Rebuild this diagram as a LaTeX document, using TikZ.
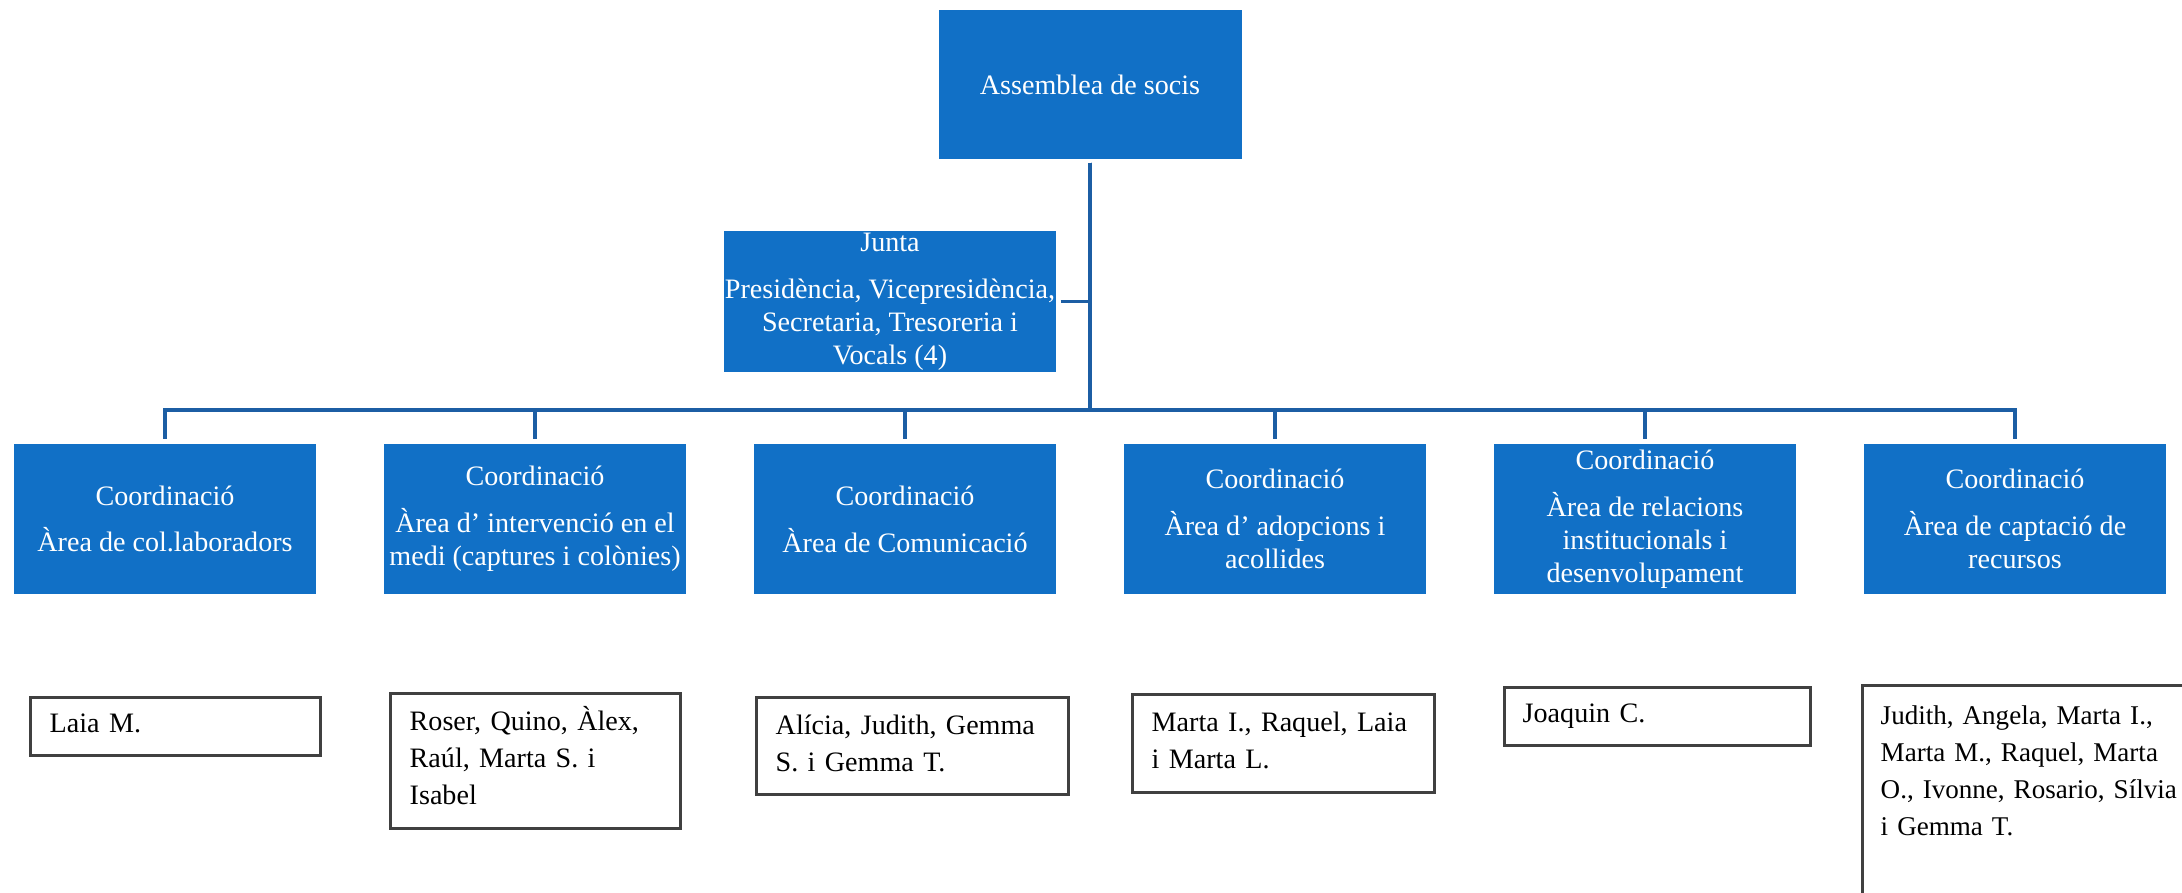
\documentclass[tikz,border=0pt]{standalone}
\usepackage{fontspec}
\setmainfont{Liberation Serif}
\usetikzlibrary{positioning}
\definecolor{orgblue}{RGB}{17,112,198}
\definecolor{linkblue}{RGB}{28,94,164}
\definecolor{boxgray}{RGB}{64,64,64}
\newcommand{\coord}{Coordinació\\[3.9pt]}
\tikzstyle{blk}=[fill=orgblue, text=white, align=center, inner sep=0pt, font=\fontsize{8}{9.4}\selectfont]
\tikzstyle{area}=[blk, minimum width=3.02cm, minimum height=1.50cm]
\tikzstyle{names}=[draw=boxgray, line width=0.8pt, anchor=north west, inner sep=0pt]
\tikzstyle{nametxt}=[anchor=base west, text width=3.3cm, align=left, inner sep=0pt, font=\fontsize{8}{10.5}\selectfont]
\tikzstyle{link}=[draw=linkblue, line width=1pt]

\begin{document}
\begin{tikzpicture}[node distance=3.70cm]
\useasboundingbox (0,0) rectangle (21.82,-8.93);
\clip (0,0) rectangle (21.82,-8.93);

\node[blk, minimum width=3.03cm, minimum height=1.49cm] at (10.90,-0.845) (ass) {Assemblea de socis};
\node[blk, minimum width=3.32cm, minimum height=1.41cm] at (8.90,-3.015) (junta) {Junta\\[3.9pt] Presidència, Vicepresidència,\\ Secretaria, Tresoreria i\\ Vocals (4)};

\node[area] at (1.65,-5.19) (c1) {\coord Àrea de col.laboradors};
\node[area, right of = c1] (c2) {\coord Àrea d’ intervenció en el\\ medi (captures i colònies)};
\node[area, right of = c2] (c3) {\coord Àrea de Comunicació};
\node[area, right of = c3] (c4) {\coord Àrea d’ adopcions i\\ acollides};
\node[area, right of = c4] (c5) {\coord Àrea de relacions\\ institucionals i\\ desenvolupament};
\node[area, right of = c5] (c6) {\coord Àrea de captació de\\ recursos};

\coordinate (bus) at (0,-4.10);
\draw[link, shorten <=0.04cm] (junta.east) -- (junta.east -| ass.south);
\foreach \i in {1,...,6}
  \draw[link, shorten <=0.03cm, shorten >=0.04cm] (ass.south) -- (ass.south |- bus) -| (c\i.north);

% people in each area
\node[names, minimum width=2.90cm, minimum height=0.58cm] at (0.29,-6.96) (n1) {};
\node[nametxt] at ([xshift=0.20cm, yshift=-0.37cm]n1.north west) (t1) {Laia M.};
\node[names, minimum width=2.90cm, minimum height=1.35cm] at (3.89,-6.92) (n2) {};
\node[nametxt] at ([xshift=0.20cm, yshift=-0.39cm]n2.north west) (t2) {Roser, Quino, Àlex,\\ Raúl, Marta S. i\\ Isabel};
\node[names, minimum width=3.12cm, minimum height=0.97cm] at (7.55,-6.96) (n3) {};
\node[nametxt] at ([xshift=0.20cm, yshift=-0.39cm]n3.north west) (t3) {Alícia, Judith, Gemma\\ S. i Gemma T.};
\node[names, minimum width=3.02cm, minimum height=0.98cm] at (11.31,-6.93) (n4) {};
\node[nametxt] at ([xshift=0.20cm, yshift=-0.39cm]n4.north west) (t4) {Marta I., Raquel, Laia\\ i Marta L.};
\node[names, minimum width=3.06cm, minimum height=0.58cm] at (15.03,-6.86) (n5) {};
\node[nametxt] at ([xshift=0.19cm, yshift=-0.37cm]n5.north west) (t5) {Joaquin C.};
\node[names, minimum width=3.50cm, minimum height=2.60cm] at (18.61,-6.84) (n6) {};
\node[nametxt, font=\fontsize{7.7}{10.5}\selectfont] at ([xshift=0.19cm, yshift=-0.41cm]n6.north west) (t6) {Judith, Angela, Marta I.,\\ Marta M., Raquel, Marta\\ O., Ivonne, Rosario, Sílvia\\ i Gemma T.};
\end{tikzpicture}
\end{document}
